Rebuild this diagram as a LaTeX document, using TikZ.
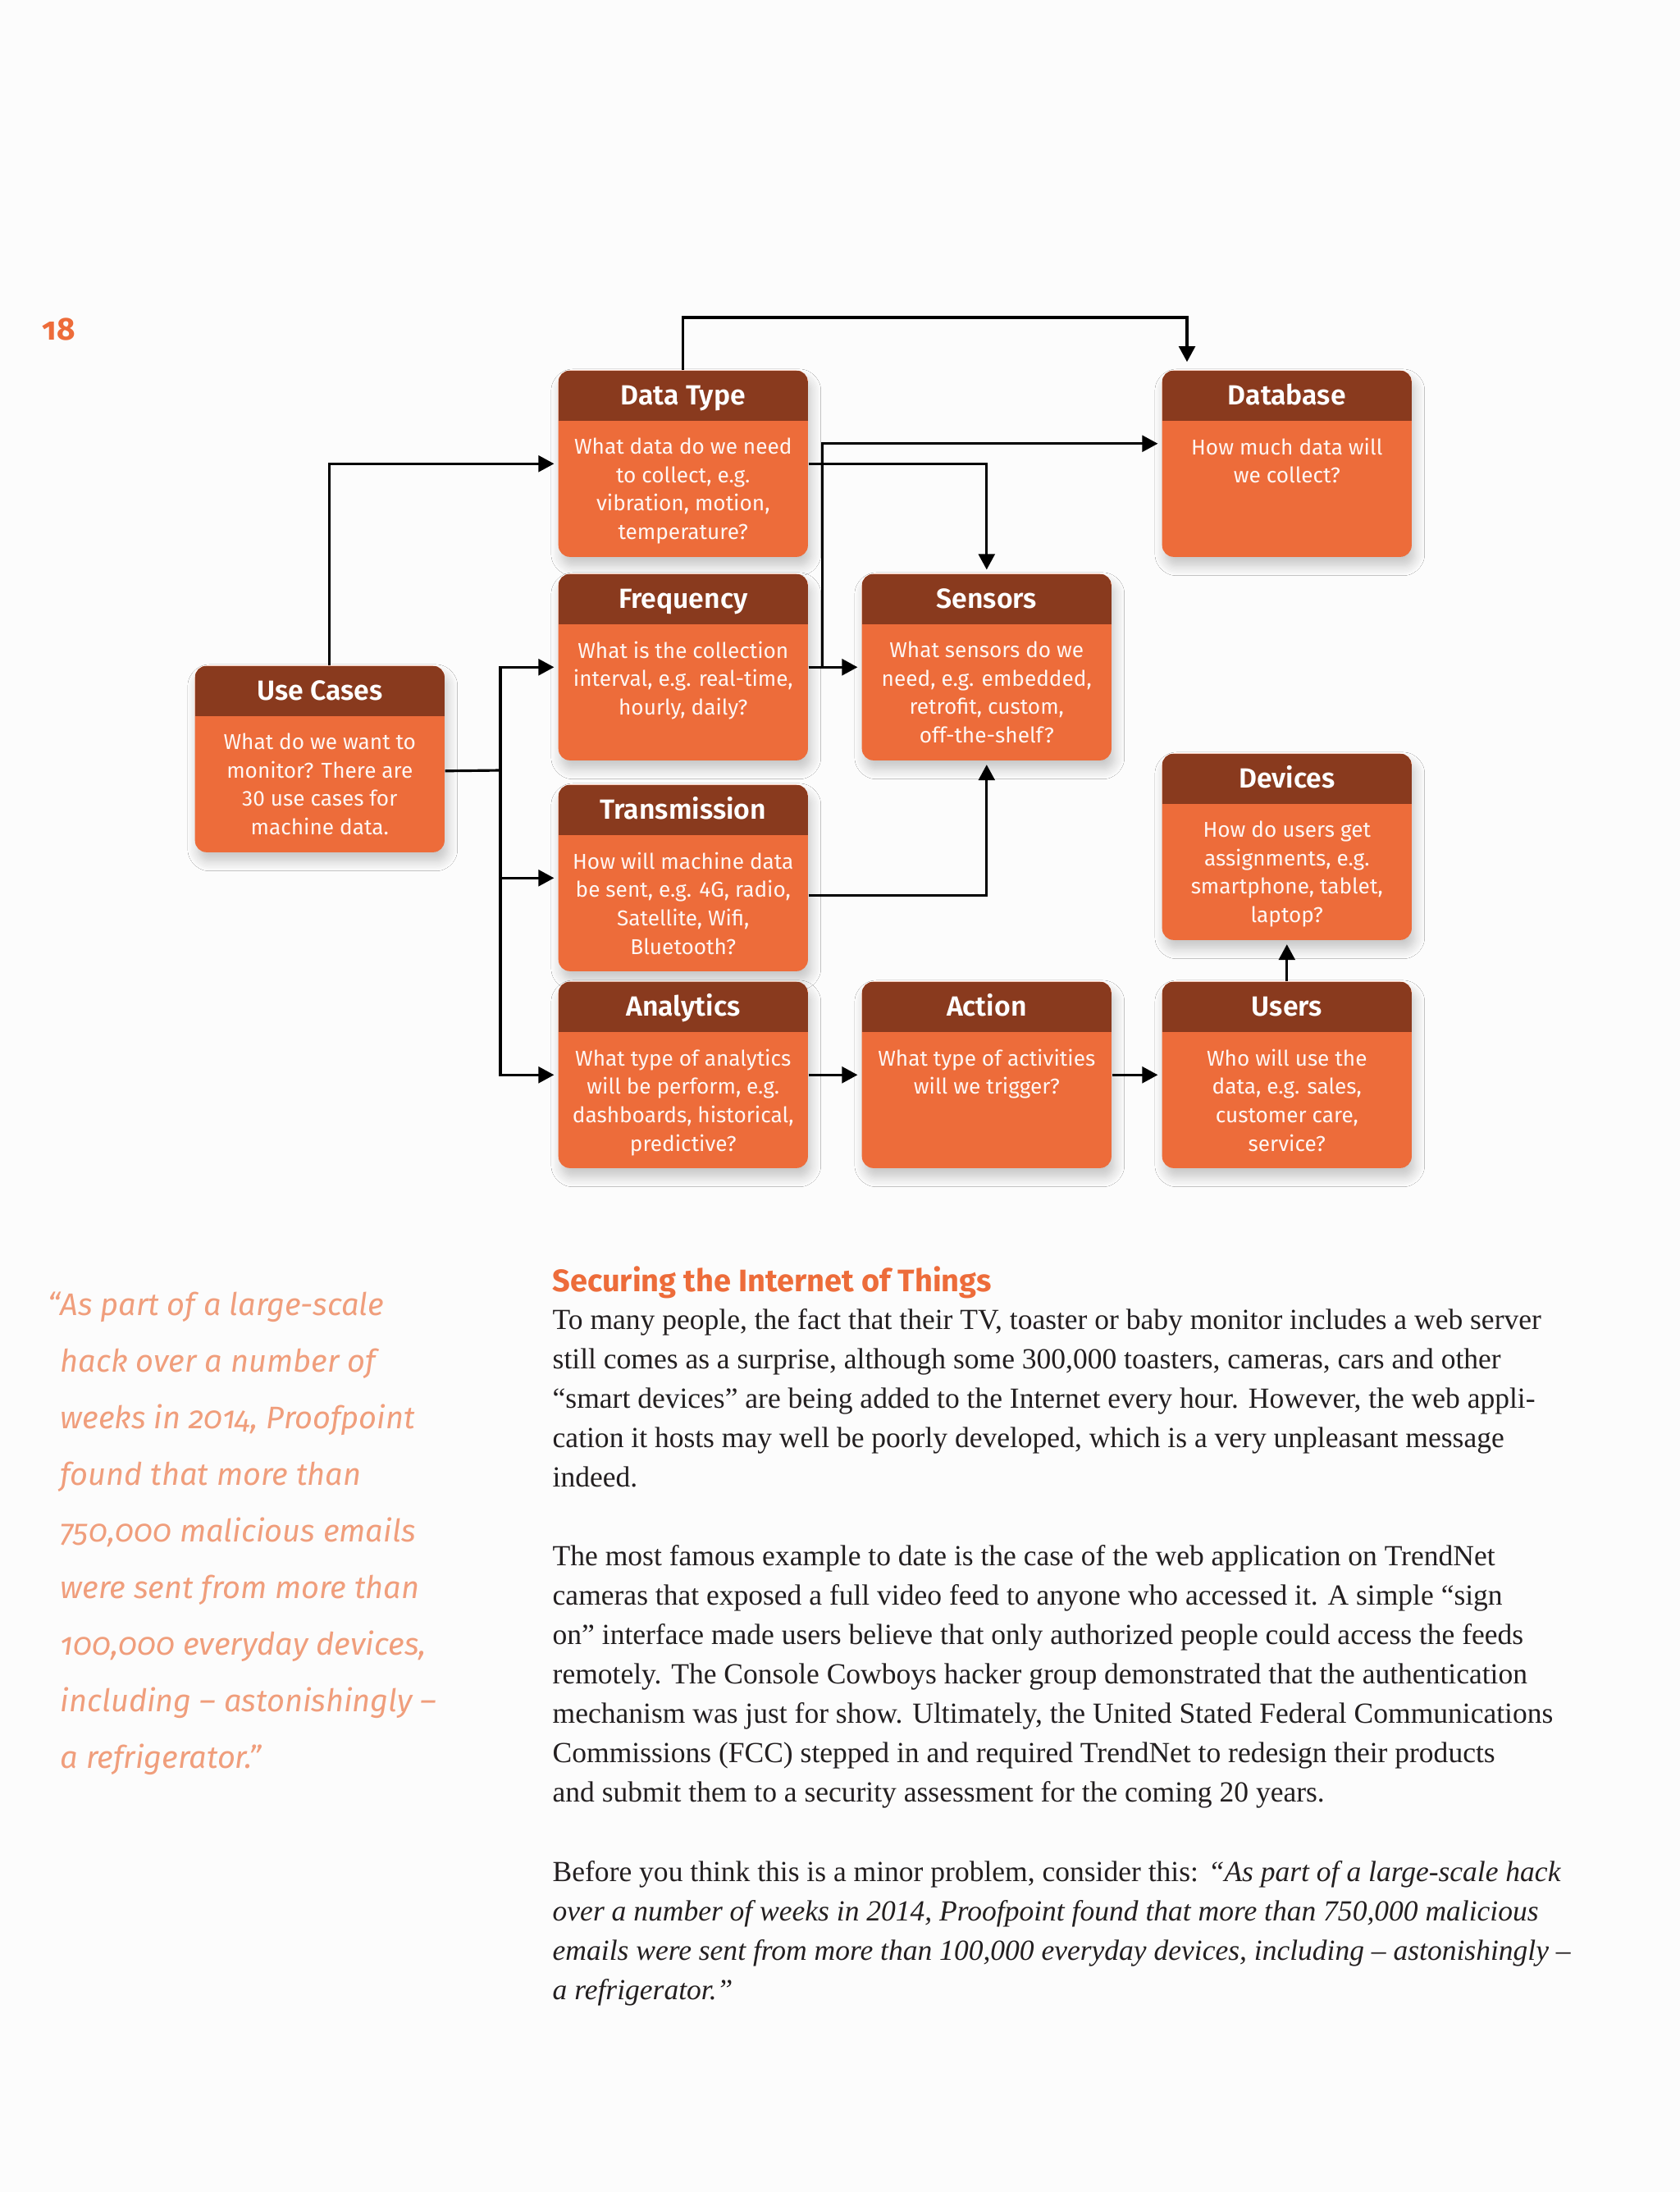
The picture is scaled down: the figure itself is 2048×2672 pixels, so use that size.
\documentclass[tikz,border=0pt]{standalone}
\usepackage{fontspec}
\setmainfont{Liberation Serif}
\setsansfont{Fira Sans}
\newfontfamily\quotefont{Fira Sans}[Numbers=OldStyle]
\newfontfamily\titlefont{Fira Sans SemiBold}
\usetikzlibrary{positioning, arrows.meta, shadows.blur}
\definecolor{iotbrown}{RGB}{137, 58, 30}
\definecolor{iotorange}{RGB}{237, 108, 58}
\definecolor{iotquote}{RGB}{240, 158, 124}
\definecolor{iotpage}{RGB}{252, 252, 252}
\definecolor{iotink}{RGB}{35, 31, 32}

\tikzset{
  iotcard/.style={rectangle, anchor=north west, minimum width=3.04cm, minimum height=2.27cm,
    rounded corners=4pt, fill=iotorange,
    blur shadow={shadow xshift=1pt, shadow yshift=-3pt, shadow blur radius=3.5pt,
      shadow blur steps=10, shadow opacity=22},
    path picture={\fill[iotbrown, sharp corners] (path picture bounding box.north west)
      rectangle ([yshift=-0.61cm]path picture bounding box.north east);}},
  iottitle/.style={font=\titlefont\fontsize{9.6}{11}\selectfont, text=white, inner sep=0pt,
    anchor=base},
  iotbody/.style={font=\sffamily\fontsize{7.45}{9.84}\selectfont, text=white!94!iotorange,
    align=center, inner sep=0pt},
  link/.style={line width=0.9pt, -{Triangle[length=5.4pt, width=5.6pt]}, shorten >=1.3pt},
  wire/.style={line width=0.9pt},
}

\newcommand{\iotbox}[4]{%
  \node[iotcard] (#1) at (#2) {};
  \node[iottitle] at ([yshift=-0.42cm]#1.north) {#3};
  \node[iotbody, below=0.82cm of #1.north] {#4};
}

\begin{document}
\begin{tikzpicture}[x=0.01cm, y=-0.01cm]
  \fill[iotpage] (0,0) rectangle (2048,2672);
  \useasboundingbox (0,0) rectangle (2048,2672);

  \node[anchor=base west, inner sep=0pt, text=iotorange,
        font=\quotefont\bfseries\fontsize{11}{13}\selectfont] (pagenum) at (51,414) {18};

  % the ten cards
  \iotbox{dtype}{680,451}{Data Type}{What data do we need\\to collect, e.g.\\vibration, motion,\\temperature?}
  \iotbox{dbase}{1416,451}{Database}{How much data will\\we collect?}
  \iotbox{freq}{680,699}{Frequency}{What is the collection\\interval, e.g. real-time,\\hourly, daily?}
  \iotbox{sensors}{1050,699}{Sensors}{What sensors do we\\need, e.g. embedded,\\retrofit, custom,\\off-the-shelf?}
  \iotbox{usecases}{237,811}{Use Cases}{What do we want to\\monitor? There are\\30 use cases for\\machine data.}
  \iotbox{trans}{680,956}{Transmission}{How will machine data\\be sent, e.g. 4G, radio,\\Satellite, Wifi,\\Bluetooth?}
  \iotbox{devices}{1416,918}{Devices}{How do users get\\assignments, e.g.\\smartphone, tablet,\\laptop?}
  \iotbox{analytics}{680,1196}{Analytics}{What type of analytics\\will be perform, e.g.\\dashboards, historical,\\predictive?}
  \iotbox{action}{1050,1196}{Action}{What type of activities\\will we trigger?}
  \iotbox{users}{1416,1196}{Users}{Who will use the\\data, e.g. sales,\\customer care,\\service?}

  % connectors
  \draw[link, shorten >=2.8pt] (dtype.north) -- ++(0,-64) -| ([xshift=0.31cm]dbase.north west);
  \draw[link] ([xshift=0.12cm]usecases.north) |- (dtype.west);
  \coordinate (split) at (610,939);
  \draw[wire] ([yshift=-0.145cm]usecases.east) -- (split);
  \draw[link] (split) |- (freq.west);
  \draw[link] (split) |- (trans.west);
  \draw[link] (split) |- (analytics.west);
  \draw[link] (dtype.east) -| (sensors.north);
  \draw[link] (freq.east) -- (sensors.west);
  \draw[link] (freq.east) -- ++(17,0) |- ([yshift=0.245cm]dbase.west);
  \draw[link] ([yshift=-0.21cm]trans.east) -| (sensors.south);
  \draw[link] (analytics) -- (action);
  \draw[link] (action) -- (users);
  \draw[link] (users) -- (devices);

  % pull quote
  \node[anchor=north west, inner sep=0pt, align=left, text=iotquote,
        font=\quotefont\itshape\fontsize{10.8}{19.63}\selectfont] (pullquote) at (73,1574) {%
    \llap{“}As part of a large-scale\\
    hack over a number of\\
    weeks in 2014, Proofpoint\\
    found that more than\\
    750,000 malicious emails\\
    were sent from more than\\
    100,000 everyday devices,\\
    including – astonishingly –\\
    a refrigerator.”};

  % article
  \node[anchor=base west, inner sep=0pt, text=iotorange,
        font=\sffamily\bfseries\fontsize{10.8}{12}\selectfont] (heading) at (673,1574)
    {Securing the Internet of Things};
  \node[anchor=north west, inner sep=0pt, align=left, text=iotink,
        font=\fontsize{10.1}{13.66}\selectfont] (para1) at (673,1595) {%
    To many people, the fact that their TV, toaster or baby monitor includes a web server\\
    still comes as a surprise, although some 300,000 toasters, cameras, cars and other\\
    “smart devices” are being added to the Internet every hour. However, the web appli-\\
    cation it hosts may well be poorly developed, which is a very unpleasant message\\
    indeed.};
  \node[anchor=north west, inner sep=0pt, align=left, text=iotink,
        font=\fontsize{10.1}{13.66}\selectfont] (para2) at (673,1883) {%
    The most famous example to date is the case of the web application on TrendNet\\
    cameras that exposed a full video feed to anyone who accessed it. A simple “sign\\
    on” interface made users believe that only authorized people could access the feeds\\
    remotely. The Console Cowboys hacker group demonstrated that the authentication\\
    mechanism was just for show. Ultimately, the United Stated Federal Communications\\
    Commissions (FCC) stepped in and required TrendNet to redesign their products\\
    and submit them to a security assessment for the coming 20 years.};
  \node[anchor=north west, inner sep=0pt, align=left, text=iotink,
        font=\fontsize{10.1}{13.66}\selectfont] (para3) at (673,2268) {%
    Before you think this is a minor problem, consider this: \textit{“As part of a large-scale hack}\\
    \textit{over a number of weeks in 2014, Proofpoint found that more than 750,000 malicious}\\
    \textit{emails were sent from more than 100,000 everyday devices, including – astonishingly –}\\
    \textit{a refrigerator.”}};
\end{tikzpicture}
\end{document}
